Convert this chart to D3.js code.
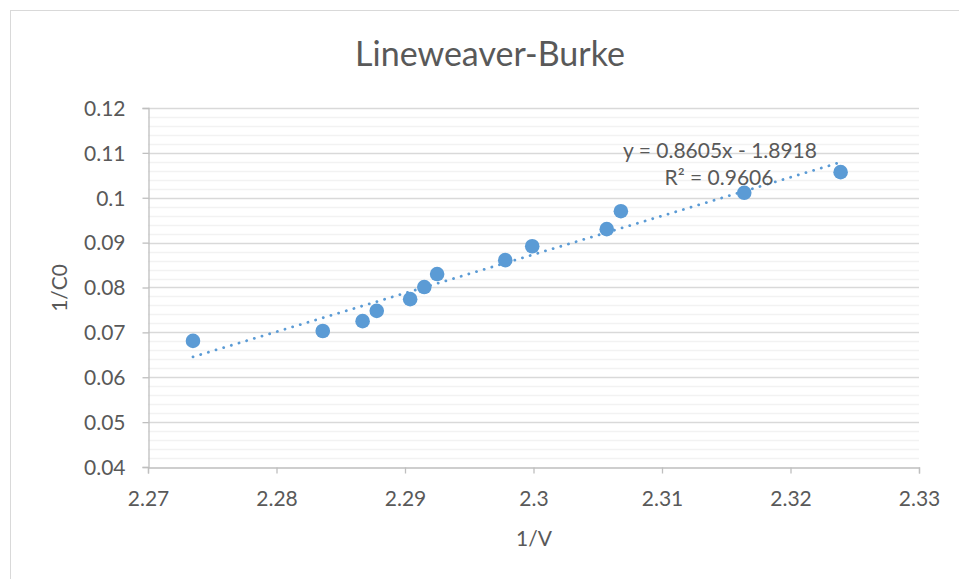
<!DOCTYPE html>
<html>
<head>
<meta charset="utf-8">
<script src="https://cdn.jsdelivr.net/npm/d3@7"></script>
<style>
  html, body { margin: 0; padding: 0; background: #fff; }
  svg { display: block; }
  text { font-family: Lato, "Open Sans", sans-serif; fill: #595959; }
</style>
</head>
<body>
<svg id="chart" width="959" height="579"></svg>
<script>
// ---- data ----
const xValues = [2.2735, 2.2836, 2.2867, 2.2878, 2.2904, 2.2915, 2.2925, 2.2978, 2.2999, 2.3057, 2.3068, 2.3164, 2.3239];
const yValues = [0.0681, 0.0703, 0.0725, 0.0748, 0.0774, 0.0801, 0.0830, 0.0861, 0.0892, 0.0930, 0.0970, 0.1011, 0.1057];
const xTicks = [2.27, 2.28, 2.29, 2.30, 2.31, 2.32, 2.33];
const xTickLabels = ["2.27", "2.28", "2.29", "2.3", "2.31", "2.32", "2.33"];
const yTicks = [0.04, 0.05, 0.06, 0.07, 0.08, 0.09, 0.10, 0.11, 0.12];
const yTickLabels = ["0.04", "0.05", "0.06", "0.07", "0.08", "0.09", "0.1", "0.11", "0.12"];
const trendSlope = 0.8605;
const trendIntercept = -1.8918;
const equationText = "y = 0.8605x - 1.8918";
const r2Text = "R² = 0.9606";
const titleText = "Lineweaver-Burke";
const xTitle = "1/V";
const yTitle = "1/C0";

// ---- layout ----
const svg = d3.select("#chart");
const W = 959, H = 579;
const plot = { left: 148, right: 919, top: 108, bottom: 467 };
const blue = "#5B9BD5";

// chart border
svg.append("rect").attr("x", 10.5).attr("y", 10.5).attr("width", W).attr("height", H)
  .attr("fill", "#fff").attr("stroke", "#d9d9d9").attr("stroke-width", 1);

const x = d3.scaleLinear().domain([2.27, 2.33]).range([plot.left, plot.right]);
const y = d3.scaleLinear().domain([0.04, 0.12]).range([plot.bottom, plot.top]);

// minor gridlines
const minorTicks = d3.range(0, 41).map(i => 0.04 + i * 0.002).filter(v => Math.abs(Math.round(v * 100) - v * 100) > 1e-6);
svg.append("g").selectAll("line").data(minorTicks).join("line")
  .attr("x1", plot.left).attr("x2", plot.right)
  .attr("y1", d => Math.round(y(d)) + 0.5).attr("y2", d => Math.round(y(d)) + 0.5)
  .attr("stroke", "#f2f2f2").attr("stroke-width", 1.3);

// major gridlines
svg.append("g").selectAll("line").data(yTicks.slice(1)).join("line")
  .attr("x1", plot.left).attr("x2", plot.right)
  .attr("y1", d => Math.round(y(d)) + 0.5).attr("y2", d => Math.round(y(d)) + 0.5)
  .attr("stroke", "#d9d9d9").attr("stroke-width", 1.3);

// y axis
const yAxis = d3.axisLeft(y).tickValues(yTicks).tickFormat((d, i) => yTickLabels[i]).tickSize(6).tickPadding(17);
const gy = svg.append("g").attr("transform", `translate(${plot.left + 0.5},0)`).call(yAxis);
gy.select(".domain").attr("stroke", "#bfbfbf").attr("stroke-width", 1.3);
gy.selectAll(".tick line").attr("stroke", "#bfbfbf").attr("stroke-width", 1.3);
gy.selectAll(".tick text").style("font-size", "21px").attr("fill", "#595959").attr("dy", "0.35em");

// x axis
const xAxis = d3.axisBottom(x).tickValues(xTicks).tickFormat((d, i) => xTickLabels[i]).tickSize(6).tickPadding(18);
const gx = svg.append("g").attr("transform", `translate(0,${plot.bottom + 0.5})`).call(xAxis);
gx.select(".domain").attr("stroke", "#bfbfbf").attr("stroke-width", 1.3);
gx.selectAll(".tick line").attr("stroke", "#bfbfbf").attr("stroke-width", 1.3);
gx.selectAll(".tick text").style("font-size", "21px").attr("fill", "#595959");
svg.selectAll(".tick text").style("font-family", "Lato, 'Open Sans', sans-serif");

// trendline
const xMin = d3.min(xValues), xMax = d3.max(xValues);
svg.append("line")
  .attr("x1", x(xMin)).attr("y1", y(trendSlope * xMin + trendIntercept))
  .attr("x2", x(xMax)).attr("y2", y(trendSlope * xMax + trendIntercept))
  .attr("stroke", blue).attr("stroke-width", 2.8)
  .attr("stroke-linecap", "round").attr("stroke-dasharray", "0.1 7.9");

// points
svg.append("g").selectAll("circle").data(xValues.map((v, i) => [v, yValues[i]])).join("circle")
  .attr("cx", d => x(d[0])).attr("cy", d => y(d[1])).attr("r", 7.3)
  .attr("fill", blue);

// equation labels
svg.append("text").attr("x", 720).attr("y", 158).attr("text-anchor", "middle")
  .style("font-size", "21px").text(equationText);
svg.append("text").attr("x", 719).attr("y", 185).attr("text-anchor", "middle")
  .style("font-size", "21px").text(r2Text);

// title
svg.append("text").attr("x", 490).attr("y", 66).attr("text-anchor", "middle")
  .style("font-size", "34px").text(titleText);

// axis titles
svg.append("text").attr("x", 534).attr("y", 546).attr("text-anchor", "middle")
  .style("font-size", "21px").text(xTitle);
svg.append("text").attr("transform", "translate(67,288) rotate(-90)").attr("text-anchor", "middle")
  .style("font-size", "21px").text(yTitle);
</script>
</body>
</html>
